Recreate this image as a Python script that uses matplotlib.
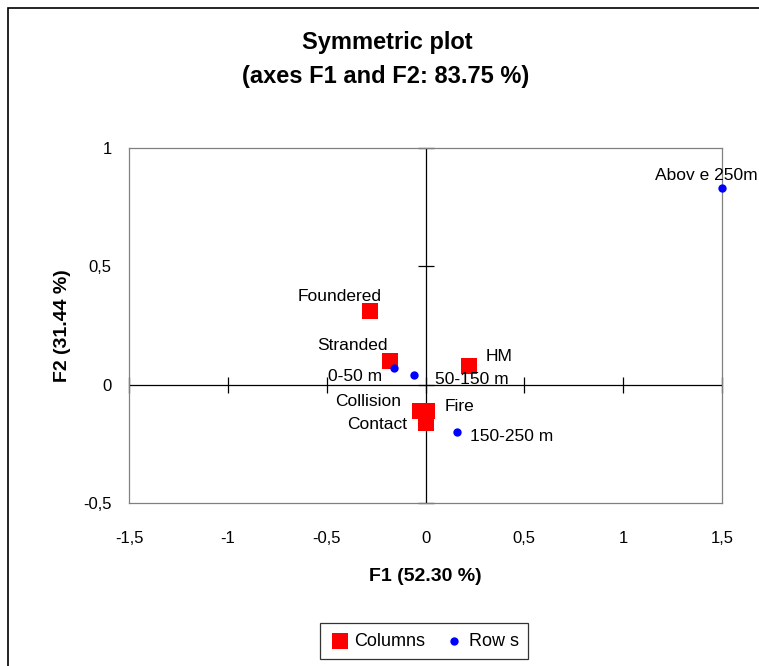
import numpy as np
import matplotlib
matplotlib.use('Agg')
import matplotlib.pyplot as plt
from matplotlib.patches import Rectangle

plt.rcParams['font.family'] = ['Liberation Sans', 'DejaVu Sans']

# Columns (red squares)
col_names = ['Foundered', 'Stranded', 'HM', 'Collision', 'Fire', 'Contact']
col_f1 = [-0.28, -0.18, 0.22, -0.03, 0.01, 0.0]
col_f2 = [0.31, 0.10, 0.08, -0.11, -0.11, -0.16]

# Rows (blue dots)
row_names = ['0-50 m', '50-150 m', '150-250 m', 'Abov e 250m']
row_f1 = [-0.16, -0.06, 0.16, 1.50]
row_f2 = [0.07, 0.04, -0.20, 0.83]

xticks = [-1.5, -1, -0.5, 0, 0.5, 1, 1.5]
yticks = [-0.5, 0, 0.5, 1]

# label offsets in points
col_off = [(-22, 11), (-27, 11.5), (22, 6.5), (-37, 6.5), (23, 3), (-35, -1.5)]
row_off = [(-28, -6), (42, -3), (39, -3), (-11.5, 9.5)]


def fmt(v):
    s = ('%g' % v).replace('.', ',')
    return s


fig = plt.figure(figsize=(7.59, 6.66), dpi=100)
fig.patches.append(Rectangle((8 / 759, -0.1), 1.2, 1.1 - 8 / 666,
                             transform=fig.transFigure, fill=False,
                             ec='black', lw=1.2, zorder=0))

ax = fig.add_axes([129 / 759, 1 - 503 / 666, (722 - 129) / 759, (503 - 148) / 666])
ax.set_xlim(-1.5, 1.5)
ax.set_ylim(-0.5, 1)
for sp in ax.spines.values():
    sp.set_color('#808080')
    sp.set_linewidth(0.9)

ax.axhline(0, color='black', lw=0.9, zorder=1)
ax.axvline(0, color='black', lw=0.9, zorder=1)
# crossing tick marks on the zero lines
ax.plot(xticks, [0] * len(xticks), ls='none', marker='|', ms=11, mew=0.9,
        color='black', clip_on=False, zorder=1)
ax.plot([0] * len(yticks), yticks, ls='none', marker='_', ms=11, mew=0.9,
        color='black', clip_on=False, zorder=1)

ax.set_xticks(xticks)
ax.set_yticks(yticks)
ax.set_xticklabels([fmt(v) for v in xticks], fontsize=12)
ax.set_yticklabels([fmt(v) for v in yticks], fontsize=12)
ax.tick_params(axis='x', length=0, pad=20)
ax.tick_params(axis='y', length=0, pad=12.5)

ax.scatter(col_f1, col_f2, marker='s', s=140, color='#ff0000', zorder=3,
           label='Columns', linewidths=0)
ax.scatter(row_f1, row_f2, marker='o', s=36, color='#0000ff', zorder=4,
           label='Row s', linewidths=0, clip_on=False)

for name, x, y, off in zip(col_names, col_f1, col_f2, col_off):
    ax.annotate(name, (x, y), xytext=off, textcoords='offset points',
                ha='center', va='center', fontsize=12.5)
for name, x, y, off in zip(row_names, row_f1, row_f2, row_off):
    ax.annotate(name, (x, y), xytext=off, textcoords='offset points',
                ha='center', va='center', fontsize=12.5)

ax.set_xlabel('F1 (52.30 %)', fontsize=14, fontweight='bold', labelpad=16)
ax.set_ylabel('F2 (31.44 %)', fontsize=14, fontweight='bold', labelpad=9)

fig.text(387 / 759, 1 - 43 / 666, 'Symmetric plot', ha='center', va='center',
         fontsize=17, fontweight='bold')
fig.text(386 / 759, 1 - 77 / 666, '(axes F1 and F2: 83.75 %)', ha='center',
         va='center', fontsize=17, fontweight='bold')

leg = fig.legend(loc='center', bbox_to_anchor=(424 / 759, 1 - 641 / 666),
                 ncol=2, fontsize=13, frameon=True, fancybox=False,
                 handletextpad=0.2, columnspacing=1.0, borderpad=0.5,
                 handlelength=1.2, markerscale=1.0)
leg.get_frame().set_edgecolor('black')
leg.get_frame().set_linewidth(0.9)

fig.savefig('out.png', dpi=100)
